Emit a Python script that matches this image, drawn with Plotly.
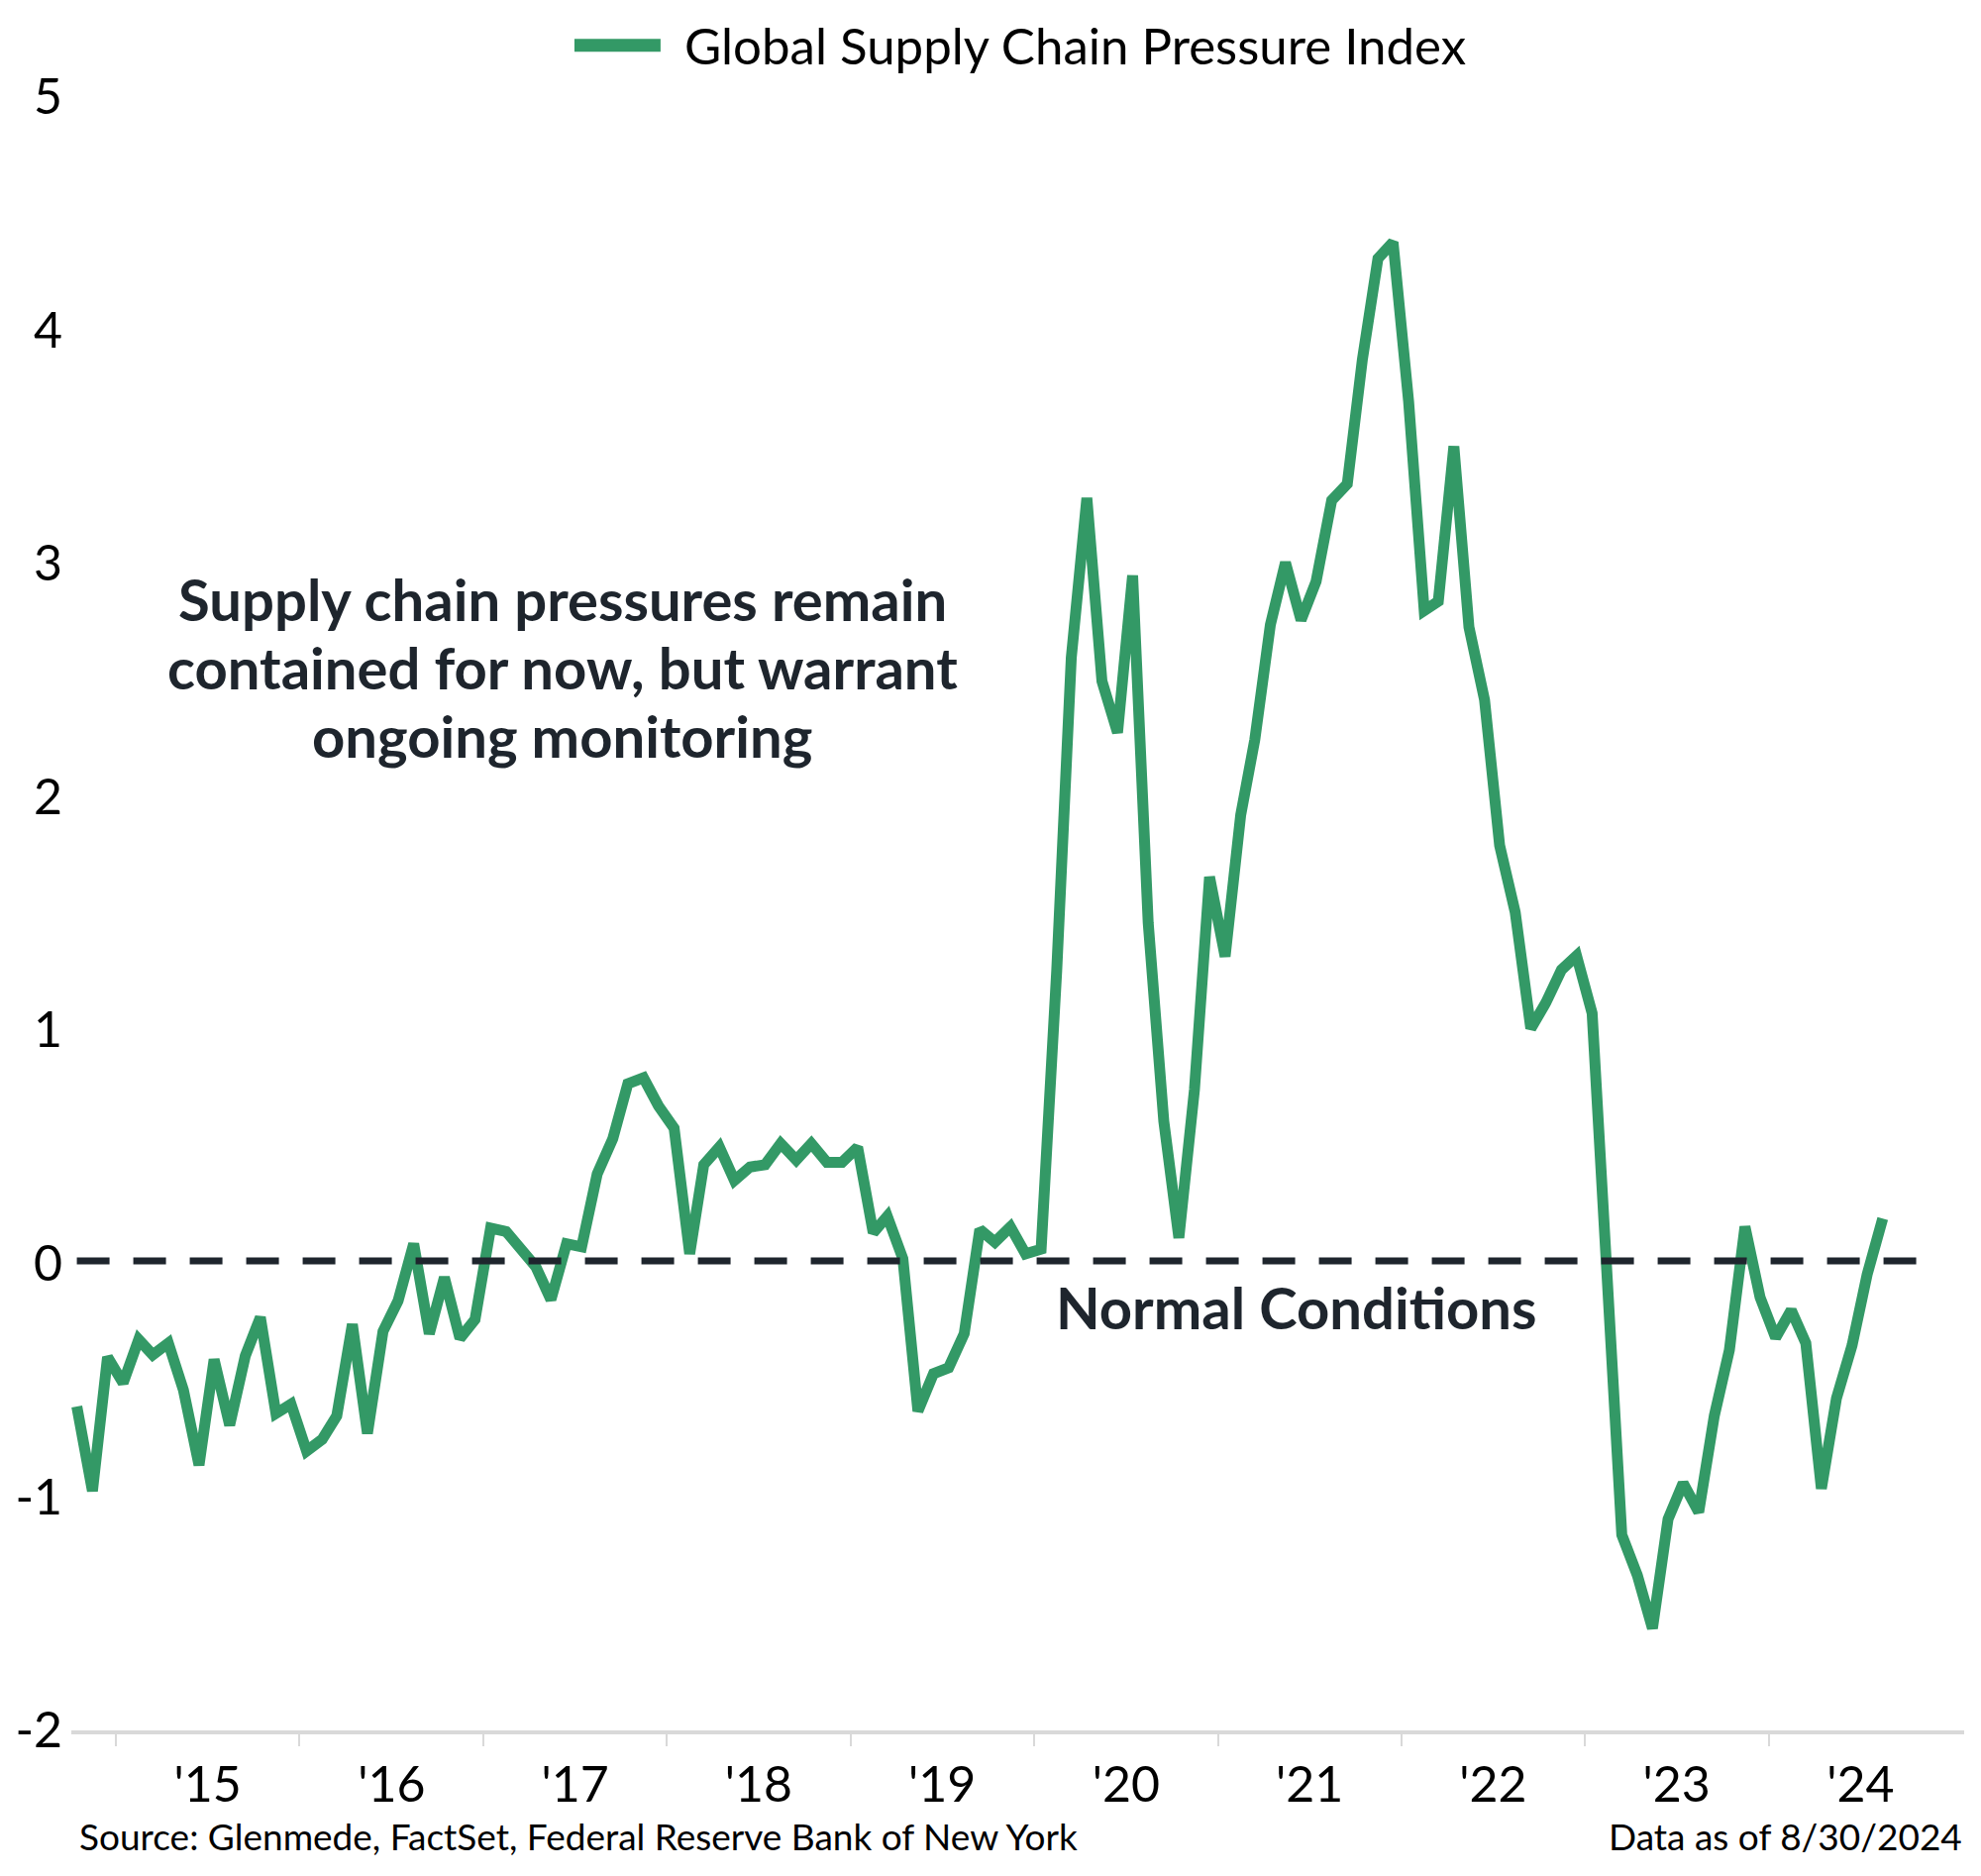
import pandas as pd
import plotly.graph_objects as go

# ---- data (monthly, Oct 2014 - Aug 2024) ----
months = pd.date_range("2014-10-01", "2024-08-01", freq="MS") + pd.Timedelta(days=14)
gscpi = [
    -0.62, -0.98, -0.41,                                                      # 2014 Oct-Dec
    -0.52, -0.335, -0.40, -0.35, -0.55, -0.87, -0.42, -0.70, -0.405, -0.24, -0.65, -0.61,   # 2015
    -0.81, -0.76, -0.66, -0.27, -0.735, -0.30, -0.17, 0.073, -0.31, -0.07, -0.33, -0.25,    # 2016
    0.14, 0.125, 0.05, -0.025, -0.165, 0.073, 0.06, 0.37, 0.52, 0.755, 0.78, 0.66,          # 2017
    0.565, 0.03, 0.41, 0.485, 0.343, 0.40, 0.41, 0.50, 0.43, 0.50, 0.42, 0.42,             # 2018
    0.484, 0.12, 0.19, 0.01, -0.64, -0.48, -0.455, -0.31, 0.134, 0.08, 0.145, 0.03,         # 2019
    0.05, 1.236, 2.57, 3.25, 2.47, 2.25, 2.92, 1.44, 0.595, 0.098, 0.73, 1.636,             # 2020
    1.297, 1.90, 2.22, 2.71, 2.975, 2.73, 2.895, 3.24, 3.31, 3.84, 4.27, 4.34,              # 2021
    3.66, 2.77, 2.81, 3.47, 2.70, 2.39, 1.77, 1.485, 0.99, 1.10, 1.24, 1.30,                # 2022
    1.055, -0.23, -1.167, -1.34, -1.565, -1.10, -0.947, -1.07, -0.66, -0.38, 0.146, -0.155, # 2023
    -0.327, -0.21, -0.35, -0.97, -0.585, -0.36, -0.058, 0.18,                               # 2024
]
series_name = "Global Supply Chain Pressure Index"
years = list(range(2015, 2025))
year_ticks = [f"{y}-01-01" for y in years]
year_mids = [f"{y}-07-02" for y in years]
year_labels = [f"'{str(y)[2:]}" for y in years]
y_ticks = [-2, -1, 0, 1, 2, 3, 4, 5]
y_labels = ["-2", "-1", "0", "1", "2", "3", "4", "5"]
normal_level = 0
normal_end = "2024-10-31"
note_lines = ["Supply chain pressures remain", "contained for now, but warrant", "ongoing monitoring"]

x_range = ["2014-10-04", "2025-01-24"]
y_range = [-2, 5]
y_label_range = [-2.001, 5.04]   # labels sit slightly below their value, as in the original

GREEN = "#339966"
DARK = "#1e252d"
GRAY = "#d9d9d9"
FONT = "Lato"

fig = go.Figure()
fig.add_trace(go.Scatter(
    x=months, y=gscpi, mode="lines", name=series_name,
    line=dict(color=GREEN, width=11), showlegend=False, xaxis="x", yaxis="y",
))
# invisible traces so the label axes are drawn
fig.add_trace(go.Scatter(x=[months[0]], y=[None], xaxis="x2", yaxis="y",
                         showlegend=False, hoverinfo="skip"))
fig.add_trace(go.Scatter(x=[months[0]], y=[None], xaxis="x", yaxis="y2",
                         showlegend=False, hoverinfo="skip"))

# zero / normal conditions line
fig.add_shape(type="line", xref="x", yref="y", x0=months[0], x1=normal_end,
              y0=normal_level, y1=normal_level,
              line=dict(color=DARK, width=7, dash="33px,24px"), layer="above")

# custom legend
fig.add_shape(type="line", xref="paper", yref="paper", x0=0.2658, x1=0.3113,
              y0=1.0255, y1=1.0255, line=dict(color=GREEN, width=13))
fig.add_annotation(xref="paper", yref="paper", x=0.3229, y=1.0255, xanchor="left",
                   yanchor="middle", showarrow=False, text=series_name,
                   font=dict(family=FONT, size=51, color="#000000"))

for line_text, ypos in zip(note_lines, [0.6884, 0.6468, 0.6052]):
    fig.add_annotation(xref="paper", yref="paper", x=0.2593, y=ypos, xanchor="center",
                       yanchor="middle", showarrow=False, text=f"<b>{line_text}</b>",
                       font=dict(family=FONT, size=58, color=DARK))
fig.add_annotation(xref="paper", yref="paper", x=0.6471, y=0.2576, xanchor="center",
                   yanchor="middle", showarrow=False, text="<b>Normal Conditions</b>",
                   font=dict(family=FONT, size=58, color=DARK))
fig.add_annotation(xref="paper", yref="paper", x=0.0030, y=-0.0640, xanchor="left",
                   yanchor="middle", showarrow=False,
                   text="Source: Glenmede, FactSet, Federal Reserve Bank of New York",
                   font=dict(family=FONT, size=37, color="#000000"))
fig.add_annotation(xref="paper", yref="paper", x=1.0, y=-0.0640, xanchor="right",
                   yanchor="middle", showarrow=False, text="Data as of 8/30/2024",
                   font=dict(family=FONT, size=37, color="#000000"))

fig.update_layout(
    width=1992, height=1886,
    margin=dict(l=64, r=17, t=80, b=147),
    paper_bgcolor="white", plot_bgcolor="white",
    font=dict(family=FONT, color="#000000"),
    showlegend=False,
    xaxis=dict(type="date", range=x_range, tickvals=year_ticks, showticklabels=False,
               ticks="outside", ticklen=12, tickwidth=2, tickcolor=GRAY,
               showline=True, linecolor=GRAY, linewidth=4, showgrid=False,
               zeroline=False, automargin=False),
    xaxis2=dict(type="date", range=x_range, overlaying="x", anchor="y", side="bottom",
                tickvals=year_mids, ticktext=year_labels, ticks="outside", ticklen=11,
                tickcolor="rgba(0,0,0,0)", showline=False, showgrid=False, zeroline=False,
                tickfont=dict(family=FONT, size=50, color="#000000"), automargin=False),
    yaxis=dict(range=y_range, tickvals=y_ticks, showticklabels=False, showgrid=False,
               zeroline=False, showline=False, ticks="", automargin=False),
    yaxis2=dict(range=y_label_range, overlaying="y", anchor="x", side="left",
                tickvals=y_ticks, ticktext=y_labels, showgrid=False,
                zeroline=False, showline=False, ticks="", ticklabelstandoff=8,
                tickfont=dict(family=FONT, size=50, color="#000000"), automargin=False),
)

fig.write_html("out.html")
